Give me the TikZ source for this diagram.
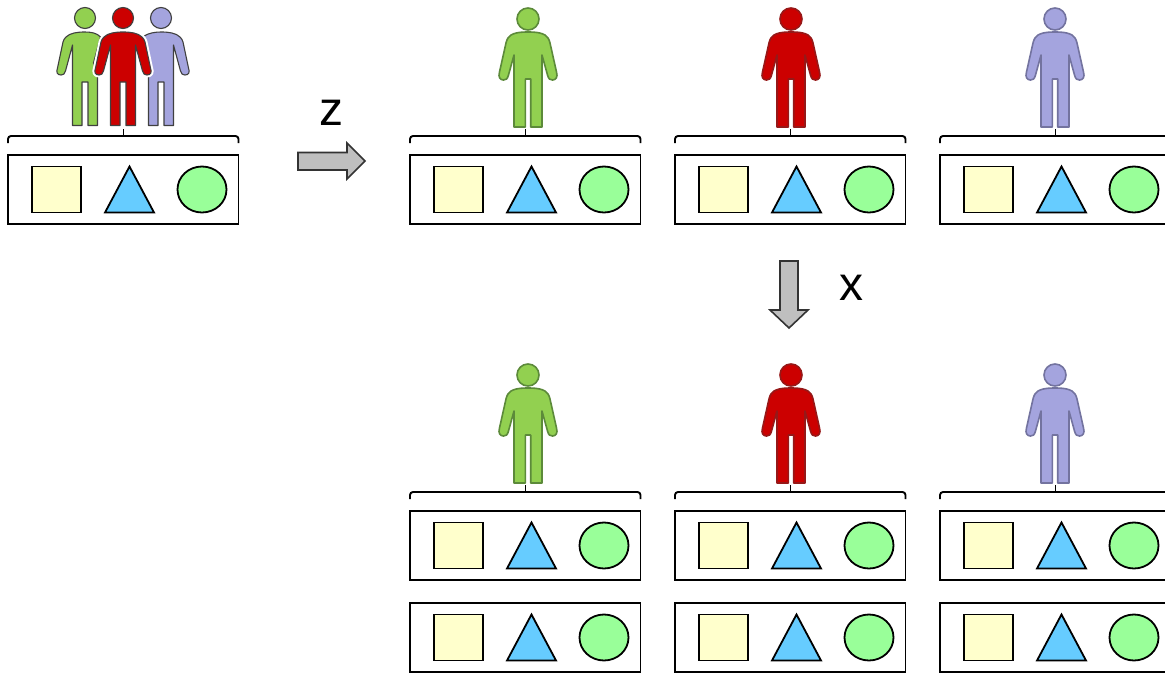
\documentclass[tikz,border=0pt]{standalone}
\usepackage{fontspec}
\setmainfont{Liberation Sans}
\definecolor{sqfill}{HTML}{FFFFCC}
\definecolor{trifill}{HTML}{66CCFF}
\definecolor{cirfill}{HTML}{99FF99}
\definecolor{pgreen}{HTML}{92D050}
\definecolor{pred}{HTML}{CC0000}
\definecolor{pblue}{HTML}{A4A4DE}
\definecolor{dgreen}{HTML}{5C8A3A}
\definecolor{dred}{HTML}{961818}
\definecolor{dblue}{HTML}{73739F}
\definecolor{arrowfill}{HTML}{BFBFBF}
\tikzset{
  x=1pt,y=-1pt,
  shapeline/.style={draw=black,line width=1.8pt,line join=miter},
  bracket/.style={draw=black,line width=1.9pt},
  fatarrow/.style={draw=black!80,fill=arrowfill,line width=1.6pt,line join=miter},
  biglabel/.style={inner sep=0pt,font=\fontsize{48}{48}\selectfont},
  largeG/.style={draw=dgreen,fill=pgreen,line width=1.6pt,line join=round},
  largeR/.style={draw=dred,fill=pred,line width=1.6pt,line join=round},
  largeB/.style={draw=dblue,fill=pblue,line width=1.6pt,line join=round},
  smallG/.style={draw=black!75,fill=pgreen,line width=1.1pt,line join=round},
  smallR/.style={draw=black!75,fill=pred,line width=1.1pt,line join=round},
  smallB/.style={draw=black!75,fill=pblue,line width=1.1pt,line join=round},
}
% full body outline of the large figures, relative to the centre of the head
\newcommand{\bodyoutline}{(0,13) .. controls (9,13) and (17,14) .. (20,19)
  .. controls (21,20.5) and (21.5,22) .. (22,24)
  -- (28.5,53) .. controls (30,58) and (28,61) .. (24.5,61)
  .. controls (22,61) and (20.5,60) .. (19.5,56)
  -- (14,36) -- (14,108) -- (2.7,108) -- (2.7,60) -- (-2.7,60) -- (-2.7,108) -- (-14,108) -- (-14,36)
  -- (-19.5,56) .. controls (-20.5,60) and (-22,61) .. (-24.5,61)
  .. controls (-28,61) and (-30,58) .. (-28.5,53)
  -- (-22,24) .. controls (-21.5,22) and (-21,20.5) .. (-20,19)
  .. controls (-17,14) and (-9,13) .. (0,13) -- cycle}
% full body outline of the figures in the group
\newcommand{\groupoutline}{(0,14) .. controls (8,14) and (15,15) .. (19,19)
  .. controls (20.5,20.5) and (21.5,22) .. (22,24)
  -- (27.5,50) .. controls (29,54) and (28,57) .. (24,57)
  .. controls (21.5,57) and (20.5,56) .. (19.5,53)
  -- (12.5,27) -- (12.5,107.5) -- (3,107.5) -- (3,64) -- (-3,64) -- (-3,107.5) -- (-12.5,107.5) -- (-12.5,27)
  -- (-19.5,53) .. controls (-20.5,56) and (-21.5,57) .. (-24,57)
  .. controls (-28,57) and (-29,54) .. (-27.5,50)
  -- (-22,24) .. controls (-21.5,22) and (-20.5,20.5) .. (-19,19)
  .. controls (-15,15) and (-8,14) .. (0,14) -- cycle}
% args: x, y of head centre, style
\newcommand{\person}[3]{%
  \begin{scope}[shift={(#1,#2)}]
    \path[#3] (0,0) circle[radius=11];
    \path[#3] \bodyoutline;
  \end{scope}}
% args: x, y of the left end of the panel top
\newcommand{\panel}[2]{%
  \begin{scope}[shift={(#1,#2)}]
    \draw[shapeline] (0,0) rectangle (230.5,69);
    \draw[shapeline,fill=sqfill] (24,11.5) rectangle (73,57.5);
    \draw[shapeline,fill=trifill] (121.5,11.5) -- (97,57.5) -- (146,57.5) -- cycle;
    \draw[shapeline,fill=cirfill] (194,34.5) ellipse[x radius=24.5,y radius=23];
  \end{scope}}
% args: x, y of the left end of the bracket bar
\newcommand{\bracketbar}[2]{%
  \begin{scope}[shift={(#1,#2)}]
    \draw[bracket,rounded corners=3pt] (0,7) -- (0,0) -- (230.5,0) -- (230.5,7);
    \draw[bracket] (115.5,0) -- (115.5,-7);
  \end{scope}}
\begin{document}
\begin{tikzpicture}
\clip (0,0) rectangle (1165,675);
\fill[white] (0,0) rectangle (1165,675);

% group of three on the left
\begin{scope}[shift={(161,18)}]
  \path[smallB] (0,0) circle[radius=10.5];
  \path[smallB] (0,14) .. controls (8,14) and (15,15) .. (19,19)
    .. controls (20.5,20.5) and (21.5,22) .. (22,24)
    -- (27.5,50) .. controls (29,54) and (28,57) .. (24,57)
    .. controls (21.5,57) and (20.5,56) .. (19.5,53)
    -- (12.5,27) -- (12.5,107.5) -- (3,107.5) -- (3,64) -- (-3,64) -- (-3,107.5) -- (-12.5,107.5)
    -- (-12.5,58) -- (-16,38) -- (-17,18) .. controls (-12,15) and (-6,14) .. (0,14) -- cycle;
\end{scope}
\begin{scope}[shift={(85,18)}]
  \path[smallG] (0,0) circle[radius=10.5];
  \path[smallG] (0,14) .. controls (-8,14) and (-15,15) .. (-19,19)
    .. controls (-20.5,20.5) and (-21.5,22) .. (-22,24)
    -- (-27.5,50) .. controls (-29,54) and (-28,57) .. (-24,57)
    .. controls (-21.5,57) and (-20.5,56) .. (-19.5,53)
    -- (-12.5,27) -- (-12.5,107.5) -- (-3,107.5) -- (-3,64) -- (3,64) -- (3,107.5) -- (12.5,107.5)
    -- (12.5,57) -- (8.5,45) -- (15.5,19) .. controls (12,15) and (6,14) .. (0,14) -- cycle;
\end{scope}
\begin{scope}[shift={(123,18)}]
  \path[draw=white,fill=white,line width=5pt,line join=round] \groupoutline;
  \path[smallR] (0,0) circle[radius=10.5];
  \path[smallR] \groupoutline;
\end{scope}
\bracketbar{8}{136}
\panel{8}{155}

% first row of individuals
\person{528}{19}{largeG}
\person{791}{19}{largeR}
\person{1055}{19}{largeB}
\bracketbar{410}{136}
\bracketbar{675}{136}
\bracketbar{940}{136}
\panel{410}{155}
\panel{675}{155}
\panel{940}{155}

% second row of individuals
\person{528}{375}{largeG}
\person{791}{375}{largeR}
\person{1055}{375}{largeB}
\bracketbar{410}{492}
\bracketbar{675}{492}
\bracketbar{940}{492}
\panel{410}{511}
\panel{675}{511}
\panel{940}{511}
\panel{410}{603}
\panel{675}{603}
\panel{940}{603}

% arrows and labels
\draw[fatarrow] (298,152.5) -- (347,152.5) -- (347,143) -- (365,161) -- (347,179) -- (347,170) -- (298,170) -- cycle;
\draw[fatarrow] (780,261) -- (798,261) -- (798,310) -- (808,310) -- (789,328) -- (770,310) -- (780,310) -- cycle;
\node[biglabel,anchor=base] (zlabel) at (331,125) {z};
\node[biglabel,anchor=base] (xlabel) at (851,300) {x};
\end{tikzpicture}
\end{document}
